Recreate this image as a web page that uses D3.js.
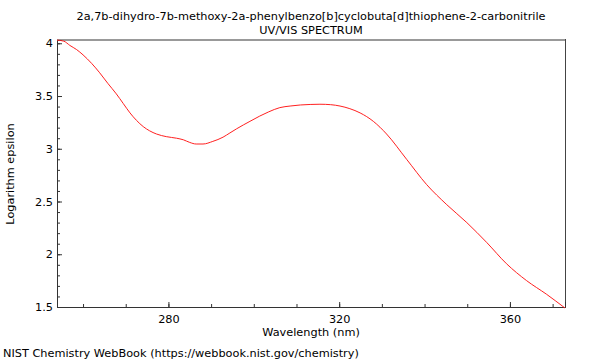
<!DOCTYPE html>
<html><head><meta charset="utf-8">
<script src="https://cdn.jsdelivr.net/npm/d3@7"></script>
<style>body{margin:0;background:#fff}svg{display:block;font-family:"DejaVu Sans",sans-serif}</style>
</head><body><svg id="c" width="600" height="360"></svg>
<script>
const title1 = "2a,7b-dihydro-7b-methoxy-2a-phenylbenzo[b]cyclobuta[d]thiophene-2-carbonitrile";
const title2 = "UV/VIS SPECTRUM";
const xLabel = "Wavelength (nm)";
const yLabel = "Logarithm epsilon";
const footer = "NIST Chemistry WebBook (https://webbook.nist.gov/chemistry)";
const xTicks = [280, 320, 360];
const yTicks = [1.5, 2, 2.5, 3, 3.5, 4];
const wavelength = [253.9,255.5,256.9,258.5,260.0,262,263.9,265.8,267.8,269.4,271.0,272.5,274.1,275.6,277.2,279.5,281.9,283.5,285.0,286.5,288.1,290.4,292.8,294.4,296.0,299.1,301.4,303.5,306.1,308.5,310.9,313.2,315.5,318,320.2,322.5,324.9,328.0,331.1,335.8,340.5,345.2,349.9,354.6,359.2,363.9,368.6,372.9];
const logEps = [4.03,4.02,3.98,3.94,3.89,3.81,3.72,3.62,3.52,3.43,3.34,3.27,3.21,3.17,3.14,3.115,3.10,3.085,3.06,3.045,3.045,3.07,3.11,3.15,3.19,3.26,3.31,3.35,3.39,3.405,3.415,3.42,3.422,3.418,3.405,3.38,3.34,3.26,3.14,2.90,2.66,2.47,2.30,2.11,1.91,1.75,1.62,1.49];

const FS = 11.3;
const svg = d3.select("#c");
const L=57, R=565, T=40, B=307;
const x = d3.scaleLinear().domain([253.9,372.9]).range([L,R]);
const y = d3.scaleLinear().domain([1.5,4.031]).range([B,T]);

svg.append("text").attr("x",311).attr("y",20).attr("text-anchor","middle").attr("font-size",FS).text(title1);
svg.append("text").attr("x",311).attr("y",34).attr("text-anchor","middle").attr("font-size",FS).text(title2);

// frame
svg.append("line").attr("x1",L).attr("x2",R).attr("y1",T).attr("y2",T).attr("stroke","#999").attr("stroke-width",2);
svg.append("line").attr("x1",R+0.5).attr("x2",R+0.5).attr("y1",T-1).attr("y2",B).attr("stroke","#444").attr("stroke-width",1);

const minorX = d3.range(260, 373, 10);
const minorY = d3.range(15, 41, 1).map(d=>d/10);

const xAxis = svg.append("g").attr("transform",`translate(0,${B})`);
xAxis.call(d3.axisBottom(x).tickValues(minorX).tickSize(-3).tickFormat(""));
xAxis.append("g").call(d3.axisBottom(x).tickValues(xTicks).tickSize(-5).tickPadding(8).tickFormat(d3.format("d")));
xAxis.selectAll(".domain").attr("stroke","#333");
xAxis.selectAll("line").attr("stroke","#333");
xAxis.selectAll("text").attr("font-size",FS).attr("fill","#000").attr("font-family","DejaVu Sans");

const yAxis = svg.append("g").attr("transform",`translate(${L},0)`);
yAxis.call(d3.axisLeft(y).tickValues(minorY).tickSize(-3).tickFormat(""));
yAxis.append("g").call(d3.axisLeft(y).tickValues(yTicks).tickSize(-5).tickPadding(4).tickFormat(d=>String(d)));
yAxis.selectAll(".domain").attr("stroke","#333");
yAxis.selectAll("line").attr("stroke","#333");
yAxis.selectAll("text").attr("font-size",FS).attr("fill","#000").attr("font-family","DejaVu Sans");

const line = d3.line().x((d,i)=>x(wavelength[i])).y(d=>y(d)).curve(d3.curveMonotoneX);
svg.append("path").attr("d",line(logEps)).attr("fill","none").attr("stroke","#ff2020").attr("stroke-width",1);

svg.append("text").attr("x",311).attr("y",336).attr("text-anchor","middle").attr("font-size",FS).text(xLabel);
svg.append("text").attr("transform","translate(14,174) rotate(-90)").attr("text-anchor","middle").attr("font-size",FS).text(yLabel);
svg.append("text").attr("x",3).attr("y",357).attr("font-size",FS).text(footer);
</script></body></html>
